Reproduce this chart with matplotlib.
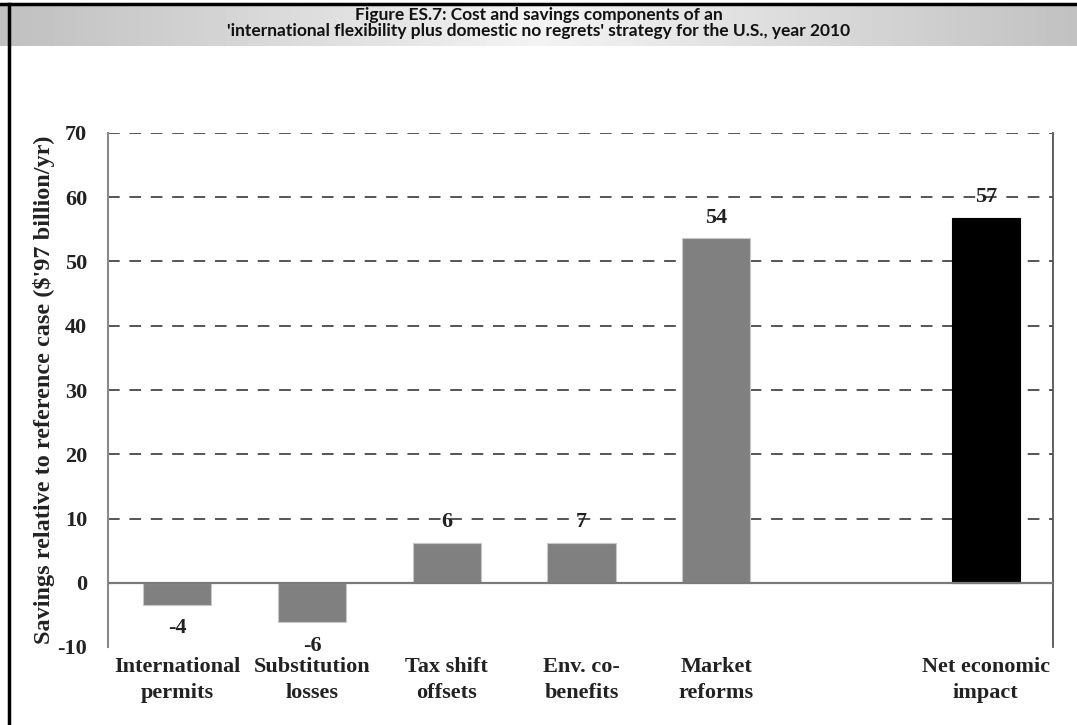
import numpy as np
import matplotlib
matplotlib.use("Agg")
from matplotlib import pyplot as plt

categories = ["International\npermits", "Substitution\nlosses", "Tax shift\noffsets",
              "Env. co-\nbenefits", "Market\nreforms", "", "Net economic\nimpact"]
values = [-3.4, -6.1, 6.2, 6.2, 53.6, np.nan, 56.8]
value_labels = ["-4", "-6", "6", "7", "54", "", "57"]
bar_colors = ["#808080", "#808080", "#808080", "#808080", "#808080", "none", "#000000"]
y_ticks = [-10, 0, 10, 20, 30, 40, 50, 60, 70]

title = ("Figure ES.7: Cost and savings components of an\n"
         "'international flexibility plus domestic no regrets' strategy for the U.S., year 2010")
y_label = "Savings relative to reference case ($'97 billion/yr)"

serif = ["Liberation Serif", "DejaVu Serif"]

fig = plt.figure(figsize=(10.77, 7.25), dpi=100)

# header band with grey gradient
hdr = fig.add_axes([0, 1 - 46 / 725, 1, 42 / 725])
grad = np.concatenate([np.linspace(0.75, 0.95, 50), np.linspace(0.95, 0.76, 50)])
hdr.imshow(grad[np.newaxis, :], cmap="gray", vmin=0, vmax=1, aspect="auto",
           extent=(0, 1, 0, 1))
hdr.set_xlim(0, 1)
hdr.set_ylim(0, 1)
hdr.axis("off")
hdr.text(0.5, 0.55, title, ha="center", va="center", fontsize=12.5, fontweight="bold",
         family=["Lato", "DejaVu Sans"], linespacing=0.95, color="#111111")

# outer border lines
fig.add_artist(plt.Line2D([0, 1], [1 - 4 / 725, 1 - 4 / 725], color="black", lw=2.5))
fig.add_artist(plt.Line2D([8.5 / 1077, 8.5 / 1077], [0, 1 - 4 / 725], color="black", lw=2.5))

ax = fig.add_axes([108 / 1077, 1 - 647 / 725, (1053 - 108) / 1077, (647 - 133) / 725])
x = np.arange(len(categories))
ax.bar(x, np.nan_to_num(values), width=0.505, color=bar_colors,
       edgecolor=["#c8c8c8" if c == "#808080" else c for c in bar_colors],
       linewidth=0.8, zorder=3)

for xi, v, lab in zip(x, values, value_labels):
    if not lab:
        continue
    off = 15 if v > 0 else -17
    ax.annotate(lab, (xi, v), xytext=(0, off), textcoords="offset points",
                ha="center", va="center", fontsize=16, fontweight="bold",
                family=serif, color="#222222", zorder=4)

ax.set_xlim(-0.515, 6.5)
ax.set_ylim(-10, 70)
ax.set_yticks(y_ticks)
ax.set_yticklabels([str(t) for t in y_ticks], fontsize=16, fontweight="bold",
                   family=serif, color="#222222")
ax.set_xticks(x)
ax.set_xticklabels(categories, fontsize=16, fontweight="bold", family=serif,
                   color="#222222", linespacing=1.45)
ax.tick_params(axis="both", length=0)
ax.tick_params(axis="y", pad=15)
ax.tick_params(axis="x", pad=7)

for t in y_ticks[2:]:
    ax.axhline(t, color="#555555", lw=1.4, ls=(0, (6, 5)), zorder=1)
ax.axhline(0, color="#7a7a7a", lw=1.6, zorder=4)

ax.spines["top"].set_visible(False)
ax.spines["bottom"].set_visible(False)
ax.spines["left"].set_color("#8a8a8a")
ax.spines["left"].set_linewidth(1.5)
ax.spines["right"].set_color("#555555")
ax.spines["right"].set_linewidth(1.3)

ax.set_ylabel(y_label, fontsize=17.5, fontweight="bold", family=serif,
              color="#222222", labelpad=2)

fig.savefig("out.png", dpi=100)
